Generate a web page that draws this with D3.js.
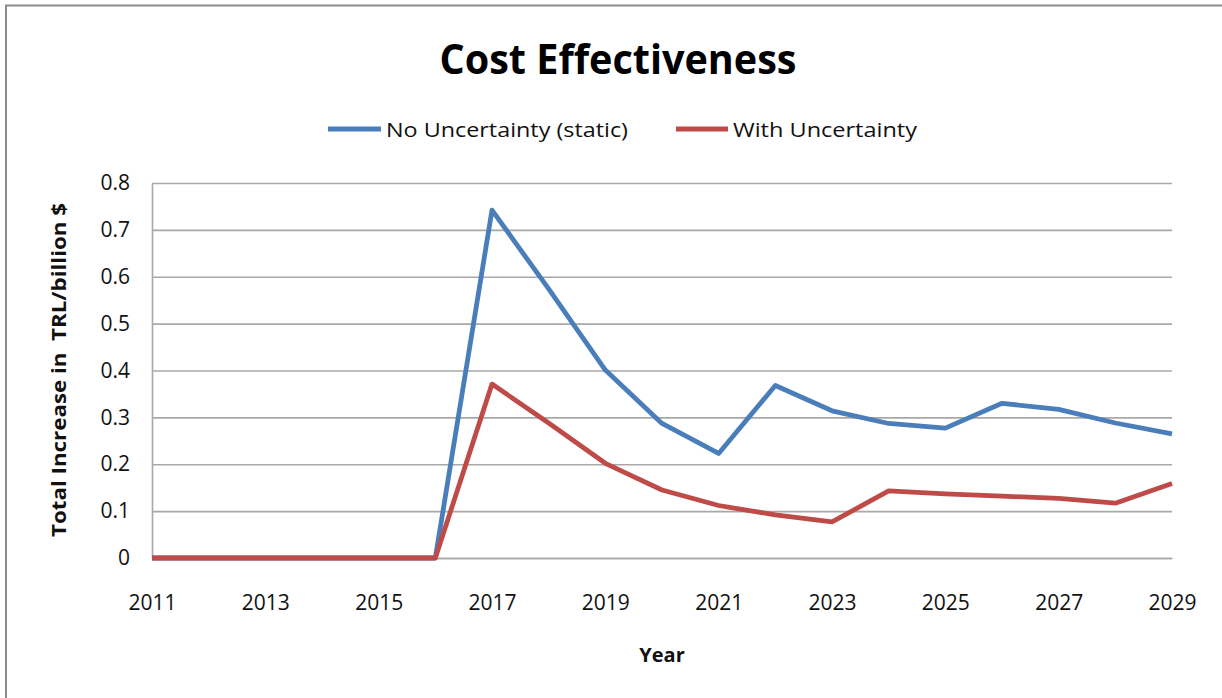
<!DOCTYPE html>
<html>
<head>
<meta charset="utf-8">
<script src="https://cdn.jsdelivr.net/npm/d3@7"></script>
<style>
  html, body { margin: 0; padding: 0; background: #fff; }
  svg { display: block; }
  text { white-space: pre; }
</style>
</head>
<body>
<svg id="chart" width="1222" height="698"></svg>
<script>
// Years on the horizontal axis
const years = d3.range(2011, 2030);
// Total increase in TRL per billion $, static case
const noUncertainty = [0, 0, 0, 0, 0, 0, 0.742, 0.574, 0.401, 0.287, 0.223, 0.368, 0.314, 0.287, 0.277, 0.330, 0.317, 0.288, 0.265];
// Total increase in TRL per billion $, with uncertainty
const withUncertainty = [0, 0, 0, 0, 0, 0, 0.371, 0.288, 0.202, 0.145, 0.112, 0.092, 0.077, 0.143, 0.137, 0.132, 0.127, 0.117, 0.159];
const xTickYears = [2011, 2013, 2015, 2017, 2019, 2021, 2023, 2025, 2027, 2029];
const yTicks = [0, 0.1, 0.2, 0.3, 0.4, 0.5, 0.6, 0.7, 0.8];
const seriesNames = ["No Uncertainty (static)", "With Uncertainty"];
const seriesColors = ["#4a7ebb", "#be4b48"];

const svg = d3.select("#chart");
const font = "'Open Sans', 'DejaVu Sans', sans-serif";

// Outer chart frame
svg.append("rect")
  .attr("x", 6).attr("y", 5.5)
  .attr("width", 1240).attr("height", 720)
  .attr("fill", "#fff")
  .attr("stroke", "#8c8c8c").attr("stroke-width", 2);

const plot = { left: 152, right: 1172, top: 183, bottom: 558 };

const x = d3.scaleLinear().domain([2011, 2029]).range([plot.left, plot.right]);
const y = d3.scaleLinear().domain([0, 0.8]).range([plot.bottom, plot.top]);

// Horizontal gridlines
svg.append("g")
  .attr("transform", `translate(${plot.left},0)`)
  .call(d3.axisLeft(y).tickValues(yTicks).tickSize(-(plot.right - plot.left)).tickFormat(""))
  .call(g => g.select(".domain").remove())
  .call(g => g.selectAll(".tick line").attr("stroke", "#a8a8a8").attr("stroke-width", 1.6));

// Vertical axis line and labels
const yAxis = svg.append("g")
  .attr("transform", `translate(${plot.left},0)`)
  .call(d3.axisLeft(y).tickValues(yTicks).tickSize(0).tickPadding(22).tickFormat(d => d === 0 ? "0" : d3.format(".1f")(d)));
yAxis.select(".domain").attr("stroke", "#a8a8a8").attr("stroke-width", 1.6);
yAxis.selectAll("text")
  .attr("font-family", font).attr("font-size", 21).attr("fill", "#111");

// Horizontal axis line and labels
const xAxis = svg.append("g")
  .attr("transform", `translate(0,${plot.bottom})`)
  .call(d3.axisBottom(x).tickValues(xTickYears).tickSize(0).tickPadding(37).tickFormat(d3.format("d")));
xAxis.select(".domain").attr("stroke", "#a8a8a8").attr("stroke-width", 1.6);
xAxis.selectAll("text")
  .attr("font-family", font).attr("font-size", 21).attr("fill", "#111");

// Series lines
const line = d3.line().x((d, i) => x(years[i])).y(d => y(d));
[noUncertainty, withUncertainty].forEach((vals, k) => {
  svg.append("path")
    .datum(vals)
    .attr("d", line)
    .attr("fill", "none")
    .attr("stroke", seriesColors[k])
    .attr("stroke-width", 4.8)
    .attr("stroke-linejoin", "round");
});

// Title
svg.append("text")
  .attr("x", 618).attr("y", 74)
  .attr("text-anchor", "middle")
  .attr("font-family", font).attr("font-weight", "bold").attr("font-size", 41)
  .attr("textLength", 357).attr("lengthAdjust", "spacingAndGlyphs")
  .attr("fill", "#000")
  .text("Cost Effectiveness");

// Legend
const legendItems = [
  { x0: 328, x1: 381, tx: 386, tw: 242 },
  { x0: 676, x1: 728, tx: 733, tw: 184 }
];
legendItems.forEach((it, k) => {
  svg.append("line")
    .attr("x1", it.x0).attr("x2", it.x1).attr("y1", 129).attr("y2", 129)
    .attr("stroke", seriesColors[k]).attr("stroke-width", 4.8);
  svg.append("text")
    .attr("x", it.tx).attr("y", 137)
    .attr("font-family", font).attr("font-size", 20)
    .attr("textLength", it.tw).attr("lengthAdjust", "spacingAndGlyphs")
    .attr("fill", "#111")
    .text(seriesNames[k]);
});

// Axis titles
svg.append("text")
  .attr("transform", "translate(66,370) rotate(-90)")
  .attr("text-anchor", "middle")
  .attr("font-family", font).attr("font-weight", "bold").attr("font-size", 20)
  .attr("textLength", 334).attr("lengthAdjust", "spacingAndGlyphs")
  .attr("fill", "#111")
  .text("Total Increase in  TRL/billion $");

svg.append("text")
  .attr("x", 662).attr("y", 662)
  .attr("text-anchor", "middle")
  .attr("font-family", font).attr("font-weight", "bold").attr("font-size", 20)
  .attr("fill", "#111")
  .text("Year");
</script>
</body>
</html>
